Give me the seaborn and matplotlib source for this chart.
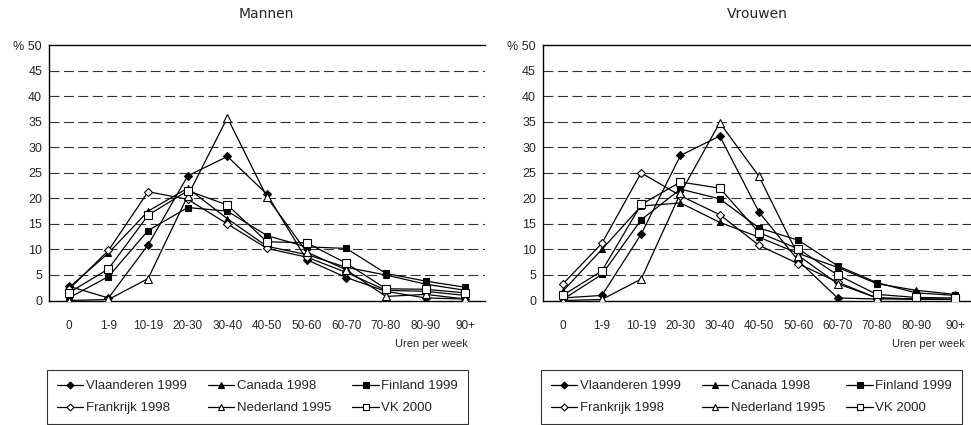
import numpy as np
import seaborn as sns
import matplotlib.pyplot as plt
from matplotlib.lines import Line2D

# hours-per-week categories
categories = ["0", "1-9", "10-19", "20-30", "30-40", "40-50",
              "50-60", "60-70", "70-80", "80-90", "90+"]

series_names = ["Vlaanderen 1999", "Canada 1998", "Finland 1999",
                "Frankrijk 1998", "Nederland 1995", "VK 2000"]

# Mannen (%)
men_vlaanderen = [2.8, 0.5, 10.9, 24.4, 28.2, 20.8, 8.0, 4.5, 1.8, 0.5, 0.3]
men_canada = [2.5, 9.3, 17.5, 22.0, 16.0, 10.6, 9.0, 6.5, 5.0, 3.2, 2.0]
men_finland = [0.5, 4.7, 13.7, 18.2, 17.5, 12.7, 10.5, 10.2, 5.3, 3.8, 2.6]
men_frankrijk = [2.2, 9.8, 21.3, 19.8, 15.0, 10.2, 8.5, 5.5, 2.0, 1.8, 1.0]
men_nederland = [0.0, 0.2, 4.3, 20.5, 35.8, 20.2, 9.5, 6.0, 0.8, 1.2, 0.3]
men_vk = [1.5, 6.2, 16.7, 21.5, 18.7, 11.5, 11.3, 7.3, 2.3, 2.2, 1.5]

# Vrouwen (%)
women_vlaanderen = [0.5, 1.0, 13.0, 28.4, 32.2, 17.3, 7.8, 0.5, 0.3, 0.3, 0.2]
women_canada = [1.8, 10.0, 18.5, 19.1, 15.3, 12.4, 9.2, 6.5, 3.3, 2.0, 1.2]
women_finland = [0.2, 5.1, 15.8, 21.8, 19.9, 14.2, 11.8, 6.8, 3.5, 1.5, 1.0]
women_frankrijk = [3.2, 11.2, 25.0, 20.5, 16.8, 10.8, 7.2, 3.6, 0.5, 0.3, 0.2]
women_nederland = [0.0, 0.2, 4.2, 21.0, 34.8, 24.3, 8.8, 3.3, 0.5, 0.3, 0.2]
women_vk = [1.0, 5.8, 18.8, 23.2, 22.0, 13.3, 10.1, 5.0, 1.2, 0.6, 0.5]

men = [men_vlaanderen, men_canada, men_finland, men_frankrijk, men_nederland, men_vk]
women = [women_vlaanderen, women_canada, women_finland, women_frankrijk, women_nederland, women_vk]

# marker style per series: (marker, filled, size)
styles = [("D", True, 4.0), ("^", True, 5.0), ("s", True, 5.0),
          ("D", False, 4.0), ("^", False, 5.5), ("s", False, 5.5)]

sns.set_style("white")
plt.rcParams["font.family"] = ["Liberation Sans Narrow", "Liberation Sans", "DejaVu Sans"]

fig = plt.figure(figsize=(9.71, 4.25), dpi=100)
ax_men = fig.add_axes([0.0505, 0.2929, 0.449, 0.601])
ax_women = fig.add_axes([0.5592, 0.2929, 0.445, 0.601])

x = np.arange(len(categories))


def draw_panel(ax, data):
    for vals, (mk, filled, ms) in zip(data, styles):
        sns.lineplot(x=x, y=vals, ax=ax, color="black", linewidth=0.9,
                     marker=mk, markersize=ms, markeredgecolor="black",
                     markerfacecolor="black" if filled else "white",
                     markeredgewidth=0.8, zorder=3)
    ax.set_xlim(-0.5, len(categories) - 0.5)
    ax.set_ylim(0, 50)
    ax.set_yticks(range(0, 51, 5))
    ax.set_yticklabels([str(v) for v in range(0, 50, 5)] + ["% 50"], fontsize=9)
    ax.set_xticks(x)
    ax.set_xticklabels(categories, fontsize=8.5)
    ax.set_xticks(np.arange(-0.5, len(categories)), minor=True)
    ax.tick_params(axis="x", which="major", length=0, pad=14)
    ax.tick_params(axis="x", which="minor", length=4, width=0.8, direction="out")
    ax.tick_params(axis="y", length=3, width=0.8, direction="out", pad=2)
    for v in range(5, 50, 5):
        ax.axhline(v, color="#333333", linewidth=0.8, linestyle=(0, (9, 4)), zorder=1)
    for side in ["left", "bottom", "top"]:
        ax.spines[side].set_color("black")
        ax.spines[side].set_linewidth(1.0)
    ax.spines["right"].set_visible(False)
    ax.set_xlabel("")
    ax.set_ylabel("")


draw_panel(ax_men, men)
draw_panel(ax_women, women)

fig.text(266 / 971, 1 - 14 / 425, "Mannen", ha="center", va="center",
         fontsize=10, family="DejaVu Sans")
fig.text(757 / 971, 1 - 14 / 425, "Vrouwen", ha="center", va="center",
         fontsize=10, family="DejaVu Sans")
fig.text(468 / 971, 1 - 344 / 425, "Uren per week", ha="right", va="center", fontsize=8)
fig.text(965 / 971, 1 - 344 / 425, "Uren per week", ha="right", va="center", fontsize=8)

handles = []
for name, (mk, filled, ms) in zip(series_names, styles):
    handles.append(Line2D([], [], color="black", linewidth=0.9, marker=mk,
                          markersize=ms - 0.5, markeredgecolor="black",
                          markerfacecolor="black" if filled else "white",
                          markeredgewidth=0.8, label=name))
# legend fills column by column; reorder so rows read like the reference
order = [0, 3, 1, 4, 2, 5]
handles = [handles[i] for i in order]

for left in [47, 541]:
    leg = fig.legend(handles=handles, ncol=3, loc="upper left",
                     bbox_to_anchor=(left / 971, 1 - 370 / 425),
                     frameon=True, fancybox=False, fontsize=9.5,
                     handlelength=2.0, handletextpad=0.2, labelspacing=0.75,
                     borderpad=0.75, borderaxespad=0, columnspacing=1.6)
    leg.get_frame().set_edgecolor("black")
    leg.get_frame().set_linewidth(0.8)

fig.savefig("out.png", dpi=100)
